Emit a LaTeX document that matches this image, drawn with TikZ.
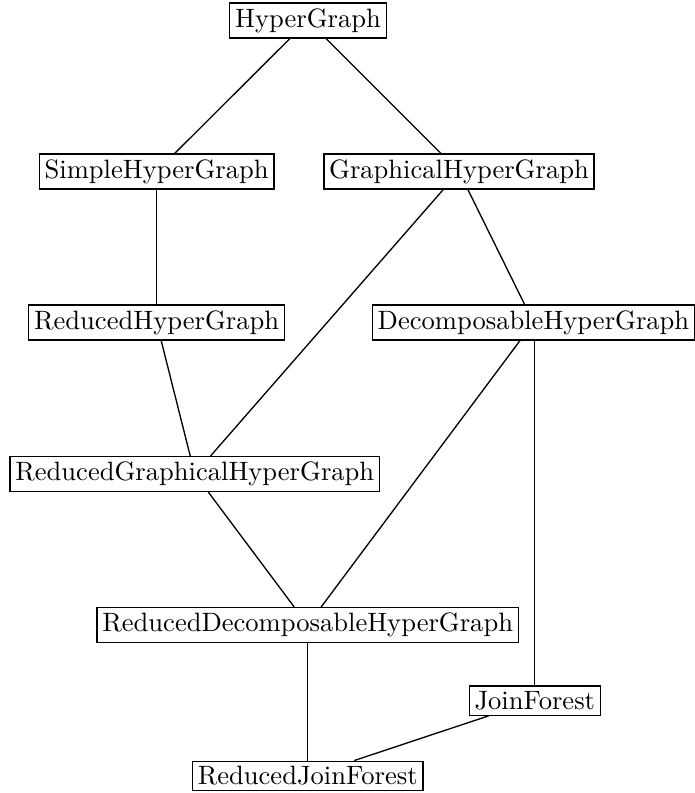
\documentclass[tikz,border=0pt]{standalone}
\usetikzlibrary{positioning}
\begin{document}
\begin{tikzpicture}[x=0.3765pt,y=-0.3765pt,
  cls/.style={draw,inner sep=2pt,line width=0.5pt},
  link/.style={line width=0.5pt}]
\useasboundingbox (0,0) rectangle (695,793);
\node[cls] (hg)   at (308,20.5)   {HyperGraph};
\node[cls] (shg)  at (156.6,171.5) {SimpleHyperGraph};
\node[cls] (ghg)  at (459,171.5)  {GraphicalHyperGraph};
\node[cls] (rhg)  at (156.6,322.5) {ReducedHyperGraph};
\node[cls] (dhg)  at (533.5,322.5) {DecomposableHyperGraph};
\node[cls] (rghg) at (194.8,474)  {ReducedGraphicalHyperGraph};
\node[cls] (rdhg) at (307.7,625)  {ReducedDecomposableHyperGraph};
\node[cls] (jf)   at (534.8,700.5) {JoinForest};
\node[cls] (rjf)  at (307.7,776)  {ReducedJoinForest};
\draw[link] (hg) -- (shg);
\draw[link] (hg) -- (ghg);
\draw[link] (shg) -- (rhg);
\draw[link] (ghg) -- (rghg);
\draw[link] (ghg) -- (dhg);
\draw[link] (rhg) -- (rghg);
\draw[link] (dhg) -- (rdhg);
\draw[link] (dhg.south -| jf.north) -- (jf.north);
\draw[link] (rghg) -- (rdhg);
\draw[link] (rdhg) -- (rjf);
\draw[link] (jf) -- (rjf);
\end{tikzpicture}
\end{document}
